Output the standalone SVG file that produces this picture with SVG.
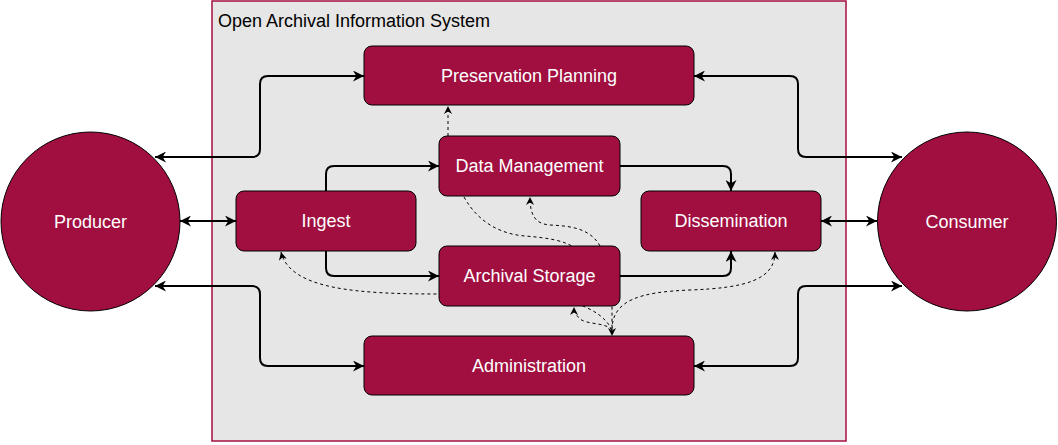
<svg xmlns="http://www.w3.org/2000/svg" width="1058" height="445" viewBox="0 0 1058 445">
<style>
.node{fill:#A00F3F;stroke:#000;stroke-width:1}
.lbl{font-family:"Liberation Sans",Arial,sans-serif;font-size:18px;fill:#fff;text-anchor:middle}
.title{font-family:"Liberation Sans",Arial,sans-serif;font-size:18px;fill:#000}
.solid{fill:none;stroke:#000;stroke-width:2}
.dash{fill:none;stroke:#000;stroke-width:1;stroke-dasharray:3 3}
</style>
<defs>
<marker id="ah" viewBox="0 0 10 10" refX="10" refY="5" markerWidth="11" markerHeight="11" markerUnits="userSpaceOnUse" orient="auto-start-reverse">
<path d="M0,0 L10,5 L0,10 L3,5 Z" fill="#000"/>
</marker>
<marker id="dh" viewBox="0 0 10 10" refX="10" refY="5" markerWidth="8" markerHeight="8" markerUnits="userSpaceOnUse" orient="auto-start-reverse">
<path d="M0,0 L10,5 L0,10 L3,5 Z" fill="#000"/>
</marker>
</defs>
<g id="oais">
<rect x="212" y="1" width="634" height="440" fill="#E6E6E6" stroke="#A50F42" stroke-width="1.5"/>
<text class="title" x="218" y="27">Open Archival Information System</text>
</g>
<g id="connectors">
<path class="solid" d="M155,157 L252,157 Q260,157 260,149 L260,84 Q260,76 268,76 L364,76" marker-start="url(#ah)" marker-end="url(#ah)"/>
<path class="solid" d="M180,221 L236,221" marker-start="url(#ah)" marker-end="url(#ah)"/>
<path class="solid" d="M155,286 L252,286 Q260,286 260,294 L260,358 Q260,366 268,366 L364,366" marker-start="url(#ah)" marker-end="url(#ah)"/>
<path class="solid" d="M694,76 L790,76 Q798,76 798,84 L798,149 Q798,157 806,157 L902,157" marker-start="url(#ah)" marker-end="url(#ah)"/>
<path class="solid" d="M821,221 L877,221" marker-start="url(#ah)" marker-end="url(#ah)"/>
<path class="solid" d="M694,366 L790,366 Q798,366 798,358 L798,294 Q798,286 806,286 L902,286" marker-start="url(#ah)" marker-end="url(#ah)"/>
<path class="solid" d="M326,191 L326,174 Q326,166 334,166 L439,166" marker-end="url(#ah)"/>
<path class="solid" d="M326,251 L326,268 Q326,276 334,276 L439,276" marker-end="url(#ah)"/>
<path class="solid" d="M620,166 L723,166 Q731,166 731,174 L731,191" marker-end="url(#ah)"/>
<path class="solid" d="M620,276 L723,276 Q731,276 731,268 L731,251" marker-end="url(#ah)"/>
<path class="dash" d="M448,136 L448,106" marker-end="url(#dh)"/>
<path class="dash" d="M464,197 C478,222 500,234 525,236 C550,238 565,241 575,248 L612,300 L612,336" marker-end="url(#dh)"/>
<path class="dash" d="M600,246 C590,228 570,226 550,225 C535,224 530,215 530,197" marker-end="url(#dh)"/>
<path class="dash" d="M612,330 C606,318 595,310 575,303 C530,294 480,294 439,294 C360,294 290,290 281,252" marker-end="url(#dh)"/>
<path class="dash" d="M612,330 C605,322 588,325 580,319 C576,315 574,312 574,307" marker-end="url(#dh)"/>
<path class="dash" d="M612,330 C612,300 640,292 690,290 C745,288 775,280 775,252" marker-end="url(#dh)"/>
</g>
<g id="producer"><circle class="node" cx="90.5" cy="221.5" r="89.5"/><text class="lbl" x="90.5" y="228">Producer</text></g>
<g id="consumer"><circle class="node" cx="967" cy="221.5" r="89.5"/><text class="lbl" x="967" y="228">Consumer</text></g>
<g id="preservation-planning"><rect class="node" x="364" y="46" width="330" height="59" rx="8"/><text class="lbl" x="529" y="82">Preservation Planning</text></g>
<g id="data-management"><rect class="node" x="439" y="136" width="181" height="60" rx="8"/><text class="lbl" x="529.5" y="172">Data Management</text></g>
<g id="ingest"><rect class="node" x="236" y="191" width="180" height="60" rx="8"/><text class="lbl" x="326" y="227">Ingest</text></g>
<g id="dissemination"><rect class="node" x="641" y="191" width="180" height="60" rx="8"/><text class="lbl" x="731" y="227">Dissemination</text></g>
<g id="archival-storage"><rect class="node" x="439" y="246" width="181" height="60" rx="8"/><text class="lbl" x="529.5" y="282">Archival Storage</text></g>
<g id="administration"><rect class="node" x="364" y="336" width="330" height="59" rx="8"/><text class="lbl" x="529" y="372">Administration</text></g>
</svg>
